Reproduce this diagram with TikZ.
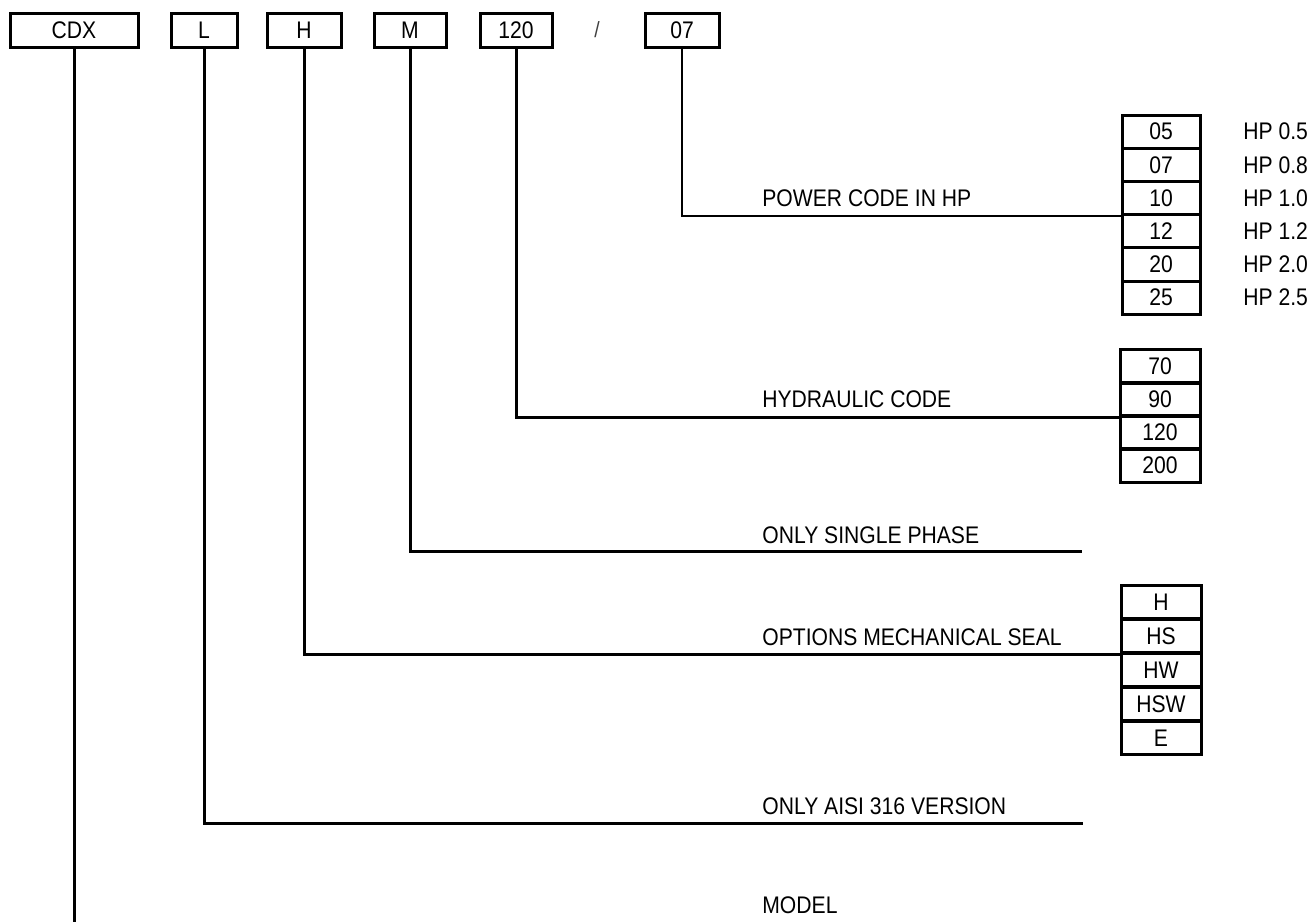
\documentclass[tikz,border=0pt]{standalone}
\usepackage{fontspec}
\setmainfont{Liberation Sans}[FakeStretch=0.88]
\begin{document}
\begin{tikzpicture}[x=0.5pt,y=-0.5pt,
  codebox/.style={draw,line width=1.5pt,minimum height=17pt,inner sep=0pt,
    font=\fontsize{12}{14}\selectfont},
  valbox/.style={draw,line width=1.5pt,minimum height=16.6pt,inner sep=0pt,
    font=\fontsize{12}{14}\selectfont},
  desc/.style={anchor=base west,inner sep=0pt,font=\fontsize{12}{14}\selectfont},
  hplabel/.style={anchor=west,inner sep=0pt,font=\fontsize{12}{14}\selectfont},
  conn/.style={line width=1.5pt},
  thinconn/.style={line width=1.1pt}]
\useasboundingbox (0,0) rectangle (1314,922);
% top code boxes
\node[codebox,minimum width=64pt] (cdx) at (74,30) {CDX};
\node[codebox,minimum width=33pt] (l) at (204,30) {L};
\node[codebox,minimum width=37pt] (h) at (304,30) {H};
\node[codebox,minimum width=36pt] (m) at (410,30) {M};
\node[codebox,minimum width=36pt] (hy) at (516,30) {120};
\node[inner sep=0pt,font=\fontsize{11}{12}\selectfont,text=black!75] (slash) at (597,30) {/};
\node[codebox,minimum width=37pt] (pw) at (682,30) {07};
% power boxes
\foreach \t [count=\i from 0] in {05,07,10,12,20,25}
  \node[valbox,minimum width=39pt] (p\t) at (1161,{131.6+\i*33.2}) {\t};
\foreach \t/\v [count=\i from 0] in {05/0.5,07/0.8,10/1.0,12/1.2,20/2.0,25/2.5}
  \node[hplabel] (hp\t) at (1243,{131.6+\i*33.2}) {HP \v};
% hydraulic boxes
\foreach \t [count=\i from 0] in {70,90,120,200}
  \node[valbox,minimum width=40pt] (q\t) at (1160,{366.5+\i*33}) {\t};
% seal boxes
\foreach \t [count=\i from 0] in {H,HS,HW,HSW,E}
  \node[valbox,minimum width=40pt] (s\t) at (1161,{602+\i*34}) {\t};
% descriptions
\node[desc] (dpw) at (762,206) {POWER CODE IN HP};
\node[desc] (dhy) at (762,407) {HYDRAULIC CODE};
\node[desc] (dm) at (762,543) {ONLY SINGLE PHASE};
\node[desc] (dh) at (762,645) {OPTIONS MECHANICAL SEAL};
\node[desc] (dl) at (762,814) {ONLY AISI 316 VERSION};
\node[desc] (dcdx) at (762,913) {MODEL};
% free ends
\coordinate (mend) at (1082,551);
\coordinate (lend) at (1083,823);
\coordinate (cdxend) at (74,922);
% connectors
\draw[thinconn] (pw.south) |- (p10.south west);
\draw[conn] (hy.south) |- (q90.south west);
\draw[conn] (m.south) |- (mend);
\draw[conn] (h.south) |- (sHS.south west);
\draw[conn] (l.south) |- (lend);
\draw[conn] (cdx.south) -- (cdxend);
\end{tikzpicture}
\end{document}
